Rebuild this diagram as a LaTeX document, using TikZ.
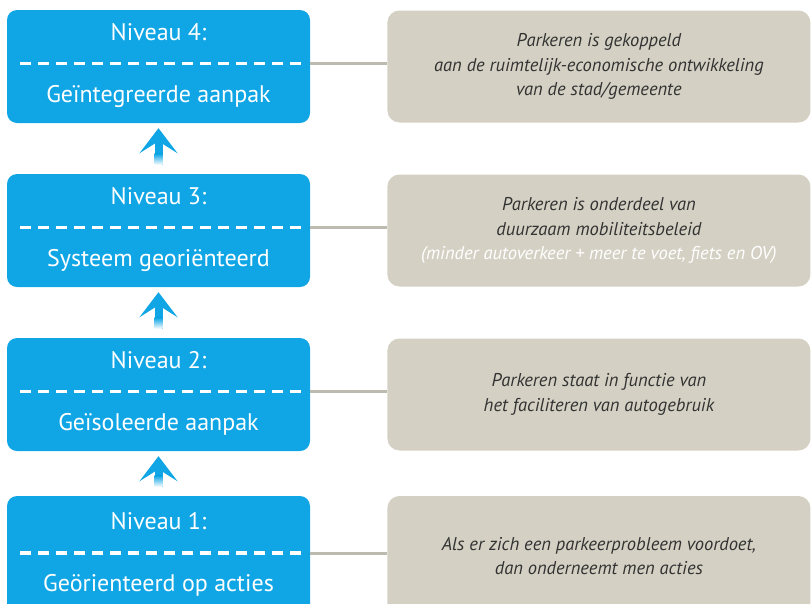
\documentclass[tikz,border=0pt]{standalone}
\usepackage{fontspec}
\setmainfont{PT Sans}
\usetikzlibrary{arrows.meta, positioning, calc}

\definecolor{nivblue}{RGB}{16,166,229}
\definecolor{descgray}{RGB}{212,209,196}
\definecolor{linkgray}{RGB}{189,186,176}
\definecolor{txtgray}{RGB}{50,50,50}

\begin{document}
\begin{tikzpicture}[x=1pt, y=-1pt,
  level/.style={fill=nivblue, rounded corners=10pt, minimum width=303pt, minimum height=113pt, inner sep=0pt},
  desc/.style={fill=descgray, rounded corners=12pt, minimum width=423pt, minimum height=112pt, inner sep=0pt,
    text=txtgray, font=\fontsize{18.5}{24.5}\selectfont\itshape, align=center},
  lbl/.style={anchor=base, text=white, font=\fontsize{24}{26}\selectfont, inner sep=0pt},
  divider/.style={draw=white, line width=3.5pt, dash pattern=on 11pt off 7pt},
  link/.style={draw=linkgray, line width=3pt},
  uparrow/.style={draw=nivblue, line width=8pt, -{Stealth[length=25pt, width=38pt, inset=12pt]}}
]
\useasboundingbox (0,0) rectangle (811,603);

% levels
\node[level] (b4) at (158.5,66.5) {};
\node[level] (b3) at (158.5,230.5) {};
\node[level] (b2) at (158.5,394.5) {};
\node[level, minimum height=120pt] (b1) at (158.5,556) {};

\node[lbl] (t4) at ([yshift=26.5pt]b4.center) {Niveau 4:};
\node[lbl] (s4) at ([yshift=-35.5pt]b4.center) {Geïntegreerde aanpak};
\node[lbl] (t3) at ([yshift=26.5pt]b3.center) {Niveau 3:};
\node[lbl] (s3) at ([yshift=-35.5pt]b3.center) {Systeem georiënteerd};
\node[lbl] (t2) at ([yshift=26.5pt]b2.center) {Niveau 2:};
\node[lbl] (s2) at ([yshift=-35.5pt]b2.center) {Geïsoleerde aanpak};
\node[lbl] (t1) at ([yshift=26.5pt]b1.center) {Niveau 1:};
\node[lbl] (s1) at ([yshift=-35.5pt]b1.center) {Geörienteerd op acties};

\foreach \n in {1,2,3,4}
  \draw[divider] ([xshift=13pt,yshift=3pt]b\n.west) -- ([xshift=-7pt,yshift=3pt]b\n.east);

% descriptions
\node[desc, right=77pt of b4] (g4) {Parkeren is gekoppeld\\aan de ruimtelijk-economische ontwikkeling\\van de stad/gemeente};
\node[desc, right=77pt of b3] (g3) {Parkeren is onderdeel van\\duurzaam mobiliteitsbeleid\\{\color{white}(minder autoverkeer + meer te voet, fiets en OV)}};
\node[desc, right=77pt of b2] (g2) {Parkeren staat in functie van\\het faciliteren van autogebruik};
\node[desc, right=77pt of b1, minimum height=120pt] (g1) {Als er zich een parkeerprobleem voordoet,\\dan onderneemt men acties};

\foreach \n in {1,2,3,4}
  \draw[link] ([yshift=3pt]b\n.east) -- ([yshift=3pt]g\n.west);

% arrows between levels
\draw[uparrow] ([yshift=9pt]b3.north) -- ([yshift=-5pt]b4.south);
\draw[uparrow] ([yshift=9pt]b2.north) -- ([yshift=-5pt]b3.south);
\draw[uparrow] ([yshift=9pt]b1.north) -- ([yshift=-5pt]b2.south);
\foreach \n in {1,2,3}
  \shade[top color=nivblue, bottom color=white] ([xshift=-4pt,yshift=9pt]b\n.north) rectangle ([xshift=4pt,yshift=20pt]b\n.north);
\end{tikzpicture}
\end{document}
